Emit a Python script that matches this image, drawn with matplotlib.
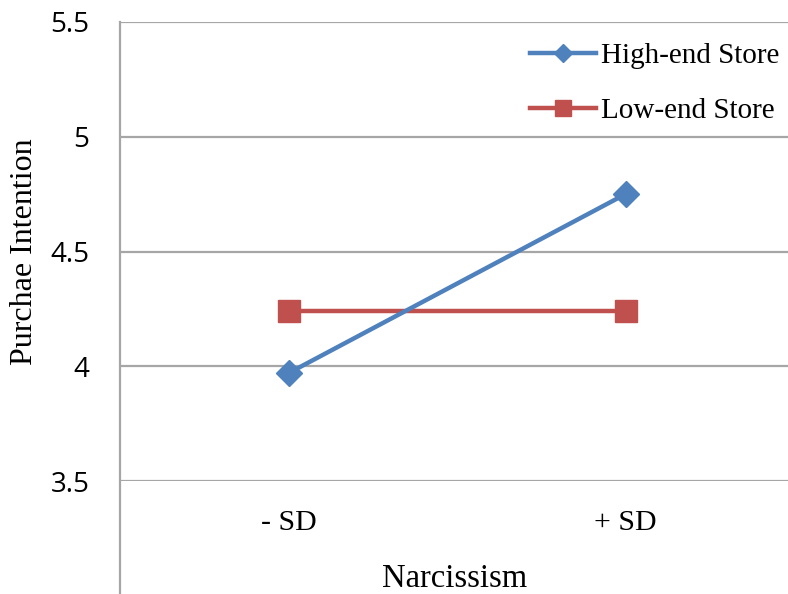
import matplotlib
matplotlib.use("Agg")
import matplotlib.pyplot as plt

categories = ["- SD", "+ SD"]
high_end = [3.97, 4.75]
low_end = [4.24, 4.24]
series_names = ["High-end Store", "Low-end Store"]
yticks = [3.5, 4.0, 4.5, 5.0, 5.5]
ytick_labels = ["3.5", "4", "4.5", "5", "5.5"]

W, H = 788, 594
fig = plt.figure(figsize=(W / 100, H / 100), dpi=100)
left, right, top, bottom = 120, 794, 22, 481
ax = fig.add_axes([left / W, 1 - bottom / H, (right - left) / W, (bottom - top) / H])

serif = "Liberation Serif"
blue = "#4F81BD"
red = "#C0504D"
grid_c = "#A6A6A6"

x = list(range(len(categories)))
ax.plot(x, high_end, color=blue, lw=3.2, marker="D", ms=13.5, mec=blue, mfc=blue,
        label=series_names[0], zorder=4)
ax.plot(x, low_end, color=red, lw=3.2, marker="s", ms=16.5, mec=red, mfc=red,
        label=series_names[1], zorder=3)

ax.set_xlim(-0.5, 1.5)
ax.set_ylim(3.5, 5.5)
ax.set_yticks(yticks)
ax.set_yticklabels(ytick_labels, fontsize=20, family="Open Sans")
ax.set_xticks(x)
ax.set_xticklabels(categories, fontsize=21.5, family=serif)
ax.tick_params(axis="y", length=0, pad=22)
ax.tick_params(axis="x", length=0, pad=21)

ax.grid(axis="y", color=grid_c, lw=1.6)
ax.set_axisbelow(True)
for s in ["top", "right", "bottom"]:
    ax.spines[s].set_visible(False)
ax.spines["left"].set_color(grid_c)
ax.spines["left"].set_linewidth(1.6)
ax.spines["left"].set_bounds(3.0, 5.5)

ax.set_ylabel("Purchae Intention", fontsize=23, family=serif)
ax.yaxis.set_label_coords(-(120 - 24) / (right - left), 0.5)
ax.yaxis.label.set_va("center")
fig.text(455 / W, 1 - 579 / H, "Narcissism", fontsize=23.5, family=serif,
         ha="center", va="center")

leg = ax.legend(loc="upper right", bbox_to_anchor=(1.017, 1.012), frameon=False,
                prop={"family": serif, "size": 21}, handlelength=2.25,
                handletextpad=0.17, labelspacing=0.98, markerscale=0.7)

fig.savefig("out.png", dpi=100)
